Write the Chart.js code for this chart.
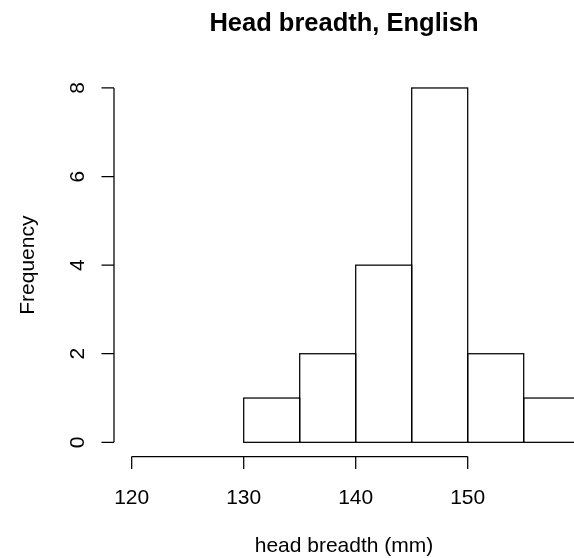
<!DOCTYPE html>
<html>
<head>
<meta charset="utf-8">
<title>Head breadth, English</title>
<script src="https://cdn.jsdelivr.net/npm/chart.js@4.4.1/dist/chart.umd.min.js"></script>
<style>
  html, body { margin: 0; padding: 0; background: #fff; overflow: hidden; }
  canvas { display: block; }
</style>
</head>
<body>
<canvas id="hist" width="574" height="558"></canvas>
<script>
// Histogram data: bin edges (mm) and the count in each bin
const breaks = [130, 135, 140, 145, 150, 155, 160];
const counts = [1, 2, 4, 8, 2, 1];

// Axis tick values
const xTicks = [120, 130, 140, 150];
const yTicks = [0, 2, 4, 6, 8];

// Text
const titleText = 'Head breadth, English';
const xTitle = 'head breadth (mm)';
const yTitle = 'Frequency';

const FONT = '"Liberation Sans", Arial, Helvetica, sans-serif';
const INK = '#000';

// one bar per bin, centred between its two edges
const barPoints = counts.map((c, i) => ({ x: (breaks[i] + breaks[i + 1]) / 2, y: c }));

// Base-graphics style frame: outlined bars, detached axes, rotated y labels
const histFrame = {
  id: 'histFrame',
  afterDatasetsDraw(chart) {
    const ctx = chart.ctx;
    const xs = chart.scales.x, ys = chart.scales.y;
    const area = chart.chartArea;
    const meta = chart.getDatasetMeta(0);

    // bar outlines, stroked on the bin edges
    ctx.save();
    ctx.beginPath();
    ctx.rect(area.left, area.top - 1, area.right - area.left + 2, area.bottom - area.top + 2);
    ctx.clip();
    ctx.strokeStyle = INK;
    ctx.lineWidth = 1.25;
    meta.data.forEach(bar => {
      const p = bar.getProps(['x', 'y', 'base', 'width'], true);
      ctx.strokeRect(p.x - p.width / 2, p.y, p.width, p.base - p.y);
    });
    ctx.restore();

    ctx.save();
    ctx.strokeStyle = INK;
    ctx.fillStyle = INK;
    ctx.lineWidth = 1.25;
    const tick = 12.5;

    // x axis along the bottom of the plot region
    const yAxisPos = area.bottom;
    ctx.beginPath();
    ctx.moveTo(xs.getPixelForValue(xTicks[0]), yAxisPos);
    ctx.lineTo(xs.getPixelForValue(xTicks[xTicks.length - 1]), yAxisPos);
    xTicks.forEach(v => {
      const px = xs.getPixelForValue(v);
      ctx.moveTo(px, yAxisPos);
      ctx.lineTo(px, yAxisPos + tick);
    });
    ctx.stroke();

    ctx.font = '21px ' + FONT;
    ctx.textAlign = 'center';
    ctx.textBaseline = 'alphabetic';
    xTicks.forEach(v => ctx.fillText(String(v), xs.getPixelForValue(v), 504));

    // y axis along the left of the plot region
    const xAxisPos = area.left;
    ctx.beginPath();
    ctx.moveTo(xAxisPos, ys.getPixelForValue(yTicks[0]));
    ctx.lineTo(xAxisPos, ys.getPixelForValue(yTicks[yTicks.length - 1]));
    yTicks.forEach(v => {
      const py = ys.getPixelForValue(v);
      ctx.moveTo(xAxisPos, py);
      ctx.lineTo(xAxisPos - tick, py);
    });
    ctx.stroke();

    yTicks.forEach(v => {
      ctx.save();
      ctx.translate(84, ys.getPixelForValue(v));
      ctx.rotate(-Math.PI / 2);
      ctx.fillText(String(v), 0, 0);
      ctx.restore();
    });

    // titles
    const midX = (area.left + area.right) / 2;
    const midY = (area.top + area.bottom) / 2;
    ctx.font = 'bold 25.5px ' + FONT;
    ctx.fillText(titleText, midX, 31);

    ctx.font = '21px ' + FONT;
    ctx.fillText(xTitle, midX, 552);

    ctx.save();
    ctx.translate(33.5, midY);
    ctx.rotate(-Math.PI / 2);
    ctx.fillText(yTitle, 0, 0);
    ctx.restore();

    ctx.restore();
  }
};

new Chart(document.getElementById('hist'), {
  type: 'bar',
  data: {
    datasets: [{
      data: barPoints,
      backgroundColor: '#fff',
      borderWidth: 0,
      barPercentage: 1,
      categoryPercentage: 1,
      inflateAmount: 0
    }]
  },
  options: {
    responsive: false,
    animation: false,
    events: [],
    layout: { padding: { left: 114, top: 73.8, right: 0, bottom: 101.5 } },
    plugins: {
      legend: { display: false },
      tooltip: { enabled: false },
      title: { display: false }
    },
    scales: {
      x: { type: 'linear', min: 118.42, max: 159.49, display: false, offset: false },
      y: { type: 'linear', min: -0.32, max: 8.32, display: false }
    }
  },
  plugins: [histFrame]
});
</script>
</body>
</html>
